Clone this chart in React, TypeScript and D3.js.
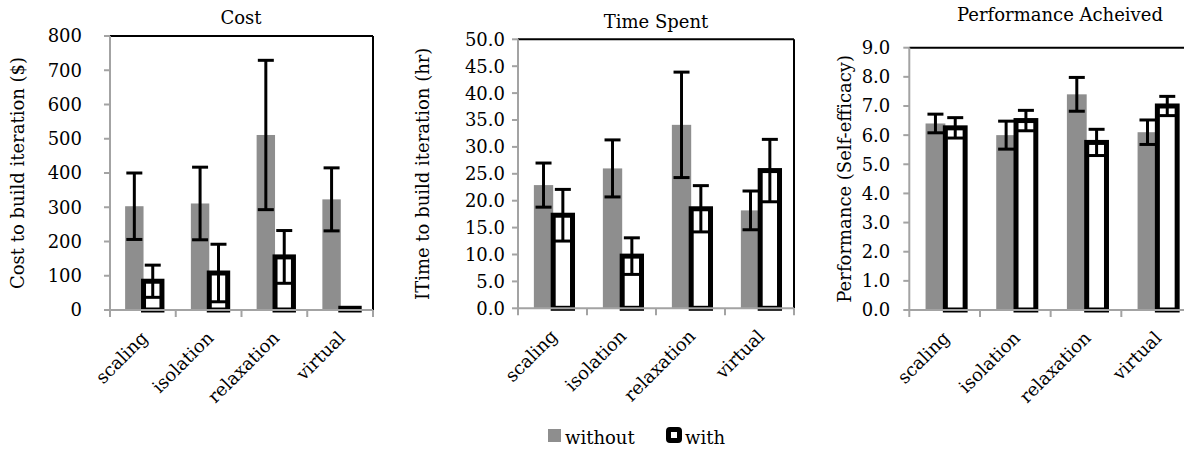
import React from "react";
import * as d3 from "d3";

const categories = ["scaling", "isolation", "relaxation", "virtual"];

const costWithout = [303, 311, 511, 323];
const costWithoutErr = [97, 106, 218, 92];
const costWith = [84, 108, 155, 5];
const costWithErr = [47, 84, 77, 0];

const timeWithout = [22.9, 26.0, 34.1, 18.2];
const timeWithoutErr = [4.1, 5.3, 9.8, 3.6];
const timeWith = [17.3, 9.7, 18.5, 25.6];
const timeWithErr = [4.8, 3.4, 4.3, 5.8];

const perfWithout = [6.4, 6.0, 7.4, 6.1];
const perfWithoutErr = [0.32, 0.48, 0.58, 0.42];
const perfWith = [6.25, 6.5, 5.75, 7.0];
const perfWithErr = [0.35, 0.35, 0.45, 0.33];

const costTicks = [0, 100, 200, 300, 400, 500, 600, 700, 800];
const timeTicks = [0, 5, 10, 15, 20, 25, 30, 35, 40, 45, 50];
const perfTicks = [0, 1, 2, 3, 4, 5, 6, 7, 8, 9];

const legendLabels = ["without", "with"];

const FONT = "'DejaVu Serif', serif";
const GRAY = "#8e8e8e";
const AXIS = "#a3a3a3";

type Panel = {
  title: string;
  yLabel: string;
  left: number;
  right: number;
  top: number;
  bottom: number;
  max: number;
  ticks: number[];
  fmt: (v: number) => string;
  without: number[];
  withoutErr: number[];
  withV: number[];
  withErr: number[];
  titleY: number;
  titleX: number;
  yLabelX: number;
  labelGap: number;
};

const panels: Panel[] = [
  {
    title: "Cost",
    yLabel: "Cost to build iteration ($)",
    left: 110, right: 373, top: 36, bottom: 310,
    max: 800, ticks: costTicks, fmt: (v) => d3.format("d")(v),
    without: costWithout, withoutErr: costWithoutErr, withV: costWith, withErr: costWithErr,
    titleY: 24, titleX: 241, yLabelX: 24, labelGap: 28,
  },
  {
    title: "Time Spent",
    yLabel: "ITime to build iteration (hr)",
    left: 518, right: 794, top: 39.3, bottom: 308.3,
    max: 50, ticks: timeTicks, fmt: (v) => d3.format(".1f")(v),
    without: timeWithout, withoutErr: timeWithoutErr, withV: timeWith, withErr: timeWithErr,
    titleY: 28, titleX: 656, yLabelX: 429, labelGap: 13,
  },
  {
    title: "Performance Acheived",
    yLabel: "Performance (Self-efficacy)",
    left: 909.3, right: 1192, top: 47.7, bottom: 310,
    max: 9, ticks: perfTicks, fmt: (v) => d3.format(".1f")(v),
    without: perfWithout, withoutErr: perfWithoutErr, withV: perfWith, withErr: perfWithErr,
    titleY: 21, titleX: 1060, yLabelX: 851, labelGap: 19,
  },
];

function ErrorBar({ x, y0, y1 }: { x: number; y0: number; y1: number }) {
  const cw = 8;
  return (
    <g stroke="#000" strokeWidth={3}>
      <line x1={x} x2={x} y1={y0} y2={y1} />
      <line x1={x - cw} x2={x + cw} y1={y0} y2={y0} />
      <line x1={x - cw} x2={x + cw} y1={y1} y2={y1} />
    </g>
  );
}

function PanelChart({ p }: { p: Panel }) {
  const x = d3.scaleBand<string>().domain(categories).range([p.left, p.right]).padding(0);
  const y = d3.scaleLinear().domain([0, p.max]).range([p.bottom, p.top]);
  const bw = x.bandwidth();
  const barW = bw * 0.28;
  const divs = d3.range(categories.length + 1).map((i) => p.left + i * bw);
  const midY = (p.top + p.bottom) / 2;
  return (
    <g>
      <text x={p.titleX} y={p.titleY} textAnchor="middle" fontSize={18} fontFamily={FONT} fill="#000">
        {p.title}
      </text>
      <line x1={p.left} x2={Math.min(p.right, 1184)} y1={p.top} y2={p.top} stroke="#000" strokeWidth={2} />
      <line x1={p.right} x2={p.right} y1={p.top} y2={p.bottom} stroke="#000" strokeWidth={2} />
      <line x1={p.left} x2={p.left} y1={p.top} y2={p.bottom} stroke={AXIS} strokeWidth={2} />
      {p.ticks.map((t) => (
        <g key={t}>
          <line x1={p.left - 6} x2={p.left} y1={y(t)} y2={y(t)} stroke={AXIS} strokeWidth={2} />
          <text
            x={p.left - p.labelGap}
            y={y(t)}
            dy="0.36em"
            textAnchor="end"
            fontSize={18}
            fontFamily={FONT}
            fill="#000"
          >
            {p.fmt(t)}
          </text>
        </g>
      ))}
      <text
        transform={`translate(${p.yLabelX},${midY}) rotate(-90)`}
        textAnchor="middle"
        fontSize={18}
        fontFamily={FONT}
        fill="#000"
      >
        {p.yLabel}
      </text>
      {categories.map((c, i) => {
        const x0 = (x(c) as number) + bw * 0.23;
        const x1 = (x(c) as number) + bw * 0.51;
        const wv = p.withV[i];
        return (
          <g key={c}>
            <rect x={x0} y={y(p.without[i])} width={barW} height={p.bottom - y(p.without[i])} fill={GRAY} />
            <rect
              x={x1}
              y={y(wv)}
              width={barW}
              height={Math.max(0, p.bottom - y(wv))}
              fill="#fff"
              stroke="#000"
              strokeWidth={5}
            />
          </g>
        );
      })}
      {categories.map((c, i) => {
        const cx0 = (x(c) as number) + bw * 0.23 + barW / 2;
        const cx1 = (x(c) as number) + bw * 0.51 + barW / 2;
        return (
          <g key={c + "e"}>
            <ErrorBar x={cx0} y0={y(p.without[i] + p.withoutErr[i])} y1={y(p.without[i] - p.withoutErr[i])} />
            {p.withErr[i] > 0 && (
              <ErrorBar x={cx1} y0={y(p.withV[i] + p.withErr[i])} y1={y(Math.max(0, p.withV[i] - p.withErr[i]))} />
            )}
          </g>
        );
      })}
      <line x1={p.left} x2={Math.min(p.right, 1184)} y1={p.bottom} y2={p.bottom} stroke={AXIS} strokeWidth={2} />
      {divs.map((d, i) => (
        <line key={i} x1={d} x2={d} y1={p.bottom} y2={p.bottom + 7} stroke={AXIS} strokeWidth={2} />
      ))}
      {categories.map((c) => {
        const cx = (x(c) as number) + bw / 2;
        return (
          <text
            key={c + "l"}
            transform={`translate(${cx + 6},${p.bottom + 29}) rotate(-45)`}
            textAnchor="end"
            fontSize={18}
            fontFamily={FONT}
            fill="#000"
          >
            {c}
          </text>
        );
      })}
    </g>
  );
}

export default function App() {
  return (
    <svg
      width={1184}
      height={450}
      style={{ position: "absolute", left: 0, top: 0, background: "#fff" }}
    >
      <rect x={0} y={0} width={1184} height={450} fill="#fff" />
      {panels.map((p) => (
        <PanelChart key={p.title} p={p} />
      ))}
      <rect x={548} y={429} width={13} height={13} fill={GRAY} />
      <text x={565} y={444} fontSize={18} fontFamily={FONT} fill="#000">
        {legendLabels[0]}
      </text>
      <rect x={668.5} y={429.5} width={11} height={11} rx={1.5} fill="#fff" stroke="#000" strokeWidth={5} />
      <text x={685} y={444} fontSize={18} fontFamily={FONT} fill="#000">
        {legendLabels[1]}
      </text>
    </svg>
  );
}
